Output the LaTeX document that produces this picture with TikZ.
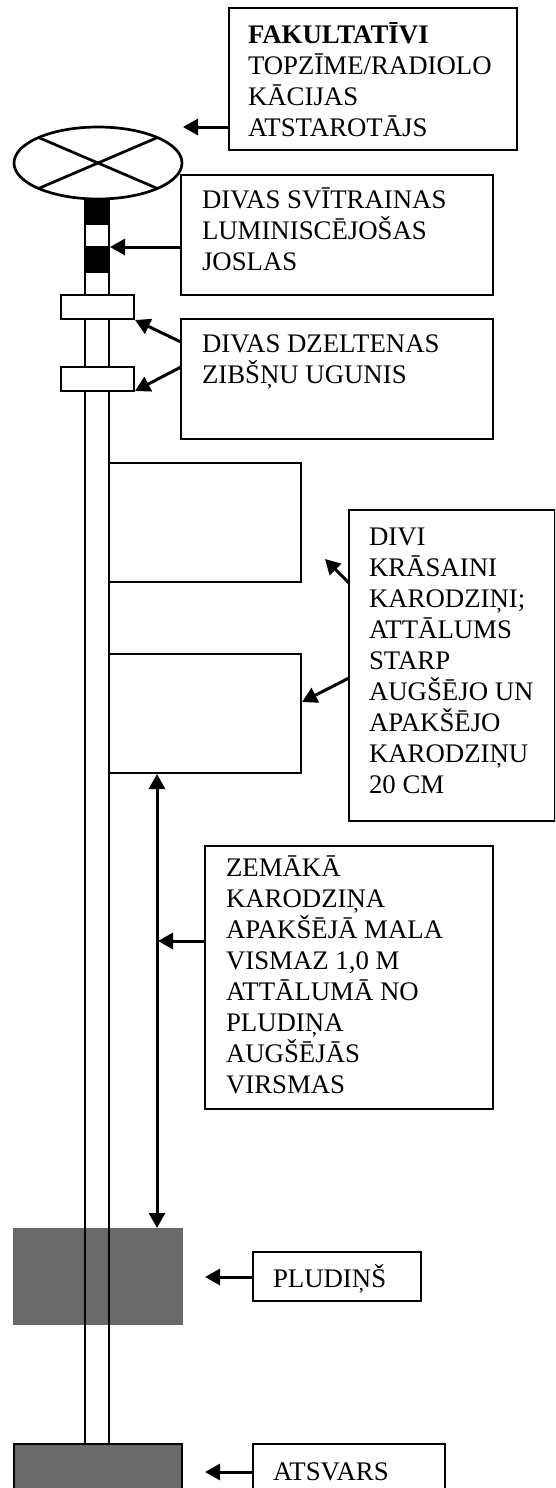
\documentclass[tikz,border=0pt]{standalone}
\usepackage{fontspec}
\setmainfont{Liberation Serif}
\usetikzlibrary{arrows.meta,shapes.geometric}
\newcommand{\bxt}[5]{\begin{minipage}[c][#2pt][t]{#1pt}\lineskiplimit=-100pt\relax\vspace*{#4pt}\leftskip=#3pt\relax\rightskip=0pt plus 1fil\parindent=0pt\strut #5\end{minipage}}
\tikzset{
  lab/.style={draw=black,line width=2.7pt,fill=white,anchor=north west,inner sep=0pt,outer sep=0pt,font=\fontsize{26.8}{31}\selectfont},
  part/.style={draw=black,line width=2.7pt,fill=white,anchor=north west,inner sep=0pt,outer sep=0pt},
  rod/.style={draw=black,line width=2.7pt},
  band/.style={fill=black,draw=black,line width=2.7pt,anchor=north west,inner sep=0pt,outer sep=0pt},
  ptr/.style={draw=black,line width=3pt,-{Triangle[length=15pt,width=16pt]}},
  dbl/.style={draw=black,line width=3pt,{Triangle[length=15pt,width=16pt]}-{Triangle[length=15pt,width=16pt]}}
}
\definecolor{bodygray}{HTML}{696969}
\begin{document}
\begin{tikzpicture}[x=1pt,y=-1pt]
\useasboundingbox (0,0) rectangle (555,1488);
\clip (0,0) rectangle (555,1488);
% float, drawn before the pole
\node[anchor=north west,fill=bodygray,inner sep=0pt,outer sep=0pt,minimum width=170pt,minimum height=97pt] (float) at (13,1228) {};
% pole
\coordinate (poleLtop) at (85,199);
\coordinate (poleRtop) at (109,199);
\coordinate (poleLbot) at (85,1444);
\coordinate (poleRbot) at (109,1444);
\draw[rod] (poleLtop) -- (poleLbot);
\draw[rod] (poleRtop) -- (poleRbot);
% top mark
\node[draw=black,line width=2.7pt,fill=white,ellipse,inner sep=0pt,outer sep=0pt,minimum width=168pt,minimum height=72pt] (topmark) at (98,163) {};
\draw[rod] (topmark.north west) -- (topmark.south east);
\draw[rod] (topmark.north east) -- (topmark.south west);
% stripes
\node[band,minimum width=24pt,minimum height=25pt] (bandA) at (85,199) {};
\node[band,minimum width=24pt,minimum height=25pt] (bandB) at (85,247) {};
% lights
\node[part,minimum width=73pt,minimum height=24pt] (lightA) at (61,295) {};
\node[part,minimum width=73pt,minimum height=24pt] (lightB) at (61,367) {};
% flags
\node[part,minimum width=192pt,minimum height=119pt] (flagA) at (109,463) {};
\node[part,minimum width=192pt,minimum height=119pt] (flagB) at (109,654) {};
% sinker
\node[draw=black,line width=2.7pt,fill=bodygray,anchor=north west,inner sep=0pt,outer sep=0pt,minimum width=168pt,minimum height=97pt] (sinker) at (14,1444) {};
% label boxes
\node[lab] (b1) at (229,8) {\bxt{288}{142}{19}{14}{\textbf{FAKULTATĪVI}\\TOPZĪME/RADIOLO\\KĀCIJAS\\ATSTAROTĀJS}};
\node[lab] (b2) at (181,175) {\bxt{312}{120}{21}{12}{DIVAS SVĪTRAINAS\\LUMINISCĒJOŠAS\\JOSLAS}};
\node[lab] (b3) at (181,319) {\bxt{312}{120}{21}{12}{DIVAS DZELTENAS\\ZIBŠŅU UGUNIS}};
\node[lab] (b4) at (349,510) {\bxt{206}{311}{20}{14}{DIVI\\KRĀSAINI\\KARODZIŅI;\\ATTĀLUMS\\STARP\\AUGŠĒJO UN\\APAKŠĒJO\\KARODZIŅU\\20 CM}};
\node[lab] (b5) at (205,846) {\bxt{288}{263}{21}{9}{ZEMĀKĀ\\KARODZIŅA\\APAKŠĒJĀ MALA\\VISMAZ 1,0 M\\ATTĀLUMĀ NO\\PLUDIŅA\\AUGŠĒJĀS\\VIRSMAS}};
\node[lab] (b6) at (253,1252) {\bxt{168}{49}{20}{12}{PLUDIŅŠ}};
\node[lab] (b7) at (253,1444) {\bxt{192}{100}{20}{15}{ATSVARS}};
% arrow ends
\coordinate (s1) at (229,127);
\coordinate (e1) at (183,127);
\coordinate (s2) at (181,247);
\coordinate (e2) at (110,247);
\coordinate (s3a) at (181,342);
\coordinate (e3a) at (135,320);
\coordinate (s3b) at (181,367);
\coordinate (e3b) at (135,391);
\coordinate (s4a) at (349,583);
\coordinate (e4a) at (325,559);
\coordinate (s4b) at (349,678);
\coordinate (e4b) at (302,702);
\coordinate (s5) at (205,941);
\coordinate (e5) at (158,941);
\coordinate (da) at (157,774);
\coordinate (db) at (157,1228);
\coordinate (s6) at (253,1277);
\coordinate (e6) at (205,1277);
\coordinate (s7) at (253,1472);
\coordinate (e7) at (205,1472);
\draw[ptr] (s1) -- (e1);
\draw[ptr] (s2) -- (e2);
\draw[ptr] (s3a) -- (e3a);
\draw[ptr] (s3b) -- (e3b);
\draw[ptr] (s4a) -- (e4a);
\draw[ptr] (s4b) -- (e4b);
\draw[ptr] (s5) -- (e5);
\draw[dbl] (da) -- (db);
\draw[ptr] (s6) -- (e6);
\draw[ptr] (s7) -- (e7);
\end{tikzpicture}
\end{document}
